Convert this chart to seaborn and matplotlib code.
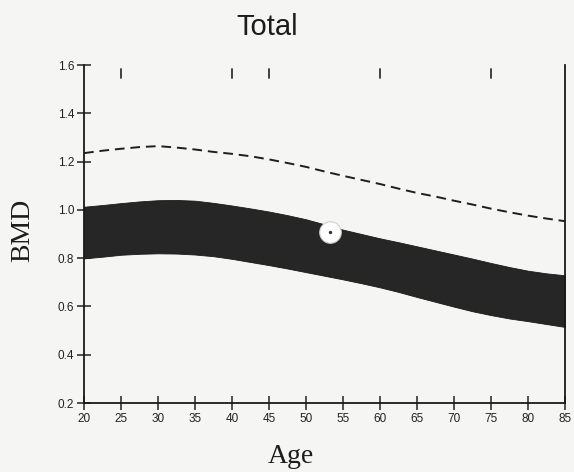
import matplotlib
matplotlib.use("Agg")
import matplotlib.pyplot as plt
import seaborn as sns
import pandas as pd

ages = [20, 22.5, 25, 27.5, 30, 32.5, 35, 37.5, 40, 42.5, 45, 47.5, 50, 52.5,
        55, 57.5, 60, 62.5, 65, 67.5, 70, 72.5, 75, 77.5, 80, 82.5, 85]
band_upper = [1.013, 1.02, 1.028, 1.035, 1.04, 1.041, 1.038, 1.029, 1.018, 1.006,
              0.993, 0.978, 0.961, 0.94, 0.918, 0.9, 0.882, 0.866, 0.849, 0.832,
              0.815, 0.798, 0.78, 0.763, 0.748, 0.737, 0.729]
band_lower = [0.799, 0.806, 0.814, 0.818, 0.82, 0.819, 0.815, 0.808, 0.797, 0.784,
              0.771, 0.757, 0.742, 0.727, 0.712, 0.696, 0.679, 0.66, 0.639, 0.619,
              0.599, 0.58, 0.564, 0.55, 0.539, 0.527, 0.515]
upper_ref = [1.235, 1.245, 1.253, 1.26, 1.264, 1.258, 1.25, 1.24, 1.232, 1.222,
             1.209, 1.194, 1.178, 1.159, 1.141, 1.124, 1.107, 1.088, 1.07, 1.055,
             1.038, 1.022, 1.005, 0.99, 0.976, 0.964, 0.953]
patient_age = [53.2]
patient_bmd = [0.909]
top_marks = [25, 40, 45, 60, 75]
xticks = [20, 25, 30, 35, 40, 45, 50, 55, 60, 65, 70, 75, 80, 85]
yticks = [0.2, 0.4, 0.6, 0.8, 1.0, 1.2, 1.4, 1.6]

sns.set_style("ticks")
bg = "#f5f5f3"
fig = plt.figure(figsize=(5.74, 4.72), dpi=100, facecolor=bg)
ax = fig.add_axes([84/574, 1-403/472, (565-84)/574, (403-65)/472])
ax.set_facecolor(bg)

df = pd.DataFrame({"age": ages, "lo": band_lower, "hi": band_upper, "ref": upper_ref})
ax.fill_between(df["age"], df["lo"], df["hi"], color="#262626", linewidth=0.6,
                edgecolor="#1a1a1a")
sns.lineplot(data=df, x="age", y="ref", ax=ax, color="#1e1e1e", linewidth=1.4,
             linestyle=(0, (5, 3)))
sns.scatterplot(x=patient_age, y=patient_bmd, ax=ax, s=240, color="white",
                edgecolor="#d0d0d0", linewidth=0.8, zorder=5)
sns.scatterplot(x=patient_age, y=patient_bmd, ax=ax, s=6, color="#333333",
                linewidth=0, zorder=6)

ax.set_xlim(20, 85)
ax.set_ylim(0.2, 1.6)
ax.set_xticks(xticks)
ax.set_xticklabels([str(t) for t in xticks])
ax.set_yticks(yticks)
ax.set_yticklabels([f"{t:.1f}" for t in yticks])
ax.tick_params(axis="both", direction="inout", length=10, width=1.1, labelsize=8.5,
               colors="#222222", pad=2)
for lab in ax.get_xticklabels() + ax.get_yticklabels():
    lab.set_family("Liberation Sans")
for s in ["left", "bottom", "right"]:
    ax.spines[s].set_color("#1a1a1a")
    ax.spines[s].set_linewidth(1.3)
ax.spines["top"].set_visible(False)
ax.set_xlabel("")
ax.set_ylabel("")

for m in top_marks:
    ax.plot([m, m], [1.545, 1.585], color="#333333", linewidth=1.3)

fig.text(267/574, 1-35/472, "Total", ha="center", va="baseline", fontsize=21,
         family="Liberation Sans", color="#1c1c1c")
fig.text(23/574, 1-230/472, "BMD", ha="center", va="center", fontsize=20,
         rotation=90, family="Liberation Serif", color="#1c1c1c")
fig.text(291/574, 1-463/472, "Age", ha="center", va="baseline", fontsize=20,
         family="Liberation Serif", color="#1c1c1c")

fig.savefig("out.png", dpi=100, facecolor=bg)
